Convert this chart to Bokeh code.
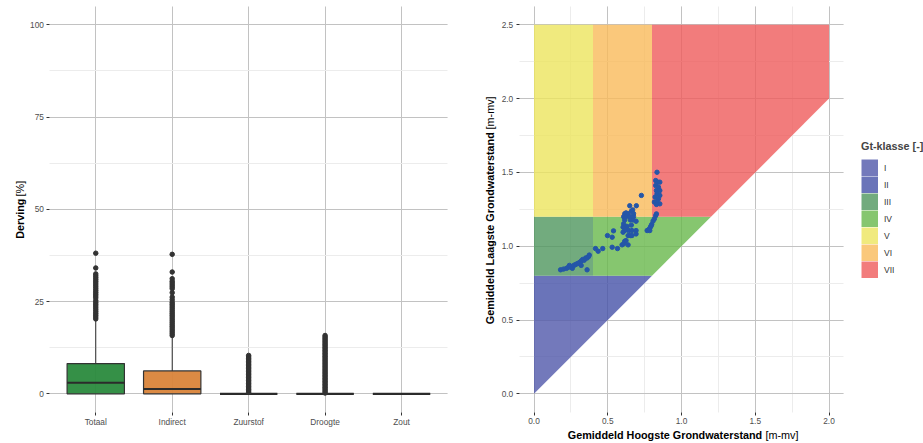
from math import pi
from bokeh.plotting import figure
from bokeh.layouts import row
from bokeh.models import (FixedTicker, SingleIntervalTicker, Label, Legend, LegendItem, Grid,
                          LinearAxis, PrintfTickFormatter, Range1d, ColumnDataSource)
from bokeh.embed import file_html
from bokeh.resources import INLINE

# ------------------------------------------------------------------ data
categories = ["Totaal", "Indirect", "Zuurstof", "Droogte", "Zout"]
box_q1 = [0.0, 0.0, 0.0, 0.0, 0.0]
box_median = [3.0, 1.3, 0.0, 0.0, 0.0]
box_q3 = [8.2, 6.2, 0.0, 0.0, 0.0]
whisker_low = [0.0, 0.0, 0.0, 0.0, 0.0]
whisker_high = [20.0, 15.4, 0.0, 0.0, 0.0]

outliers_totaal = [38.1, 34.1, 32.5, 32.0, 31.5, 31.0, 30.5, 30.0, 29.5, 29.0, 28.5, 28.0,
                   27.5, 27.0, 26.5, 26.0, 25.3, 24.8, 24.3, 23.8, 23.3, 22.8, 22.3, 21.8,
                   21.3, 20.8, 20.3]
outliers_indirect = [37.8, 33.0, 31.2, 30.5, 30.0, 29.5, 29.0, 28.5, 27.4, 26.2, 25.5, 24.8,
                     24.3, 23.8, 23.3, 22.8, 22.3, 21.8, 21.3, 20.8, 20.3, 19.8, 19.3, 18.8,
                     18.3, 17.8, 17.3, 16.8, 16.3, 15.8]
outliers_zuurstof = [10.4, 10.0, 9.6, 9.2, 8.8, 8.4, 8.0, 7.6, 7.2, 6.8, 6.4, 6.0, 5.6, 5.2,
                     4.8, 4.4, 4.0, 3.6, 3.2, 2.8, 2.4, 2.0, 1.6, 1.2, 0.8, 0.4]
outliers_droogte = [15.8, 15.4, 15.0, 14.6, 14.2, 13.8, 13.4, 13.0, 12.6, 12.2, 11.8, 11.4,
                    11.0, 10.6, 10.2, 9.8, 9.4, 9.0, 8.6, 8.2, 7.8, 7.4, 7.0, 6.6, 6.2, 5.8,
                    5.4, 5.0, 4.6, 4.2, 3.8, 3.4, 3.0, 2.6, 2.2, 1.8, 1.4, 1.0, 0.6, 0.2]
outliers_zout = []

gt_labels = ["I", "II", "III", "IV", "V", "VI", "VII"]
gt_xs = [[0.0, 0.5, 0.0],
         [0.0, 0.5, 0.8, 0.0],
         [0.0, 0.4, 0.4, 0.0],
         [0.4, 0.8, 1.2, 0.4],
         [0.0, 0.4, 0.4, 0.0],
         [0.4, 0.8, 0.8, 0.4],
         [0.8, 1.2, 2.0, 2.0, 0.8]]
gt_ys = [[0.0, 0.5, 0.5],
         [0.5, 0.5, 0.8, 0.8],
         [0.8, 0.8, 1.2, 1.2],
         [0.8, 0.8, 1.2, 1.2],
         [1.2, 1.2, 2.5, 2.5],
         [1.2, 1.2, 2.5, 2.5],
         [1.2, 1.2, 2.0, 2.5, 2.5]]

ghg = [0.18, 0.20, 0.22, 0.23, 0.24, 0.25, 0.26, 0.27, 0.28, 0.29, 0.30, 0.31, 0.32, 0.32,
       0.33, 0.34, 0.35, 0.36, 0.37, 0.375, 0.36,
       0.417, 0.435, 0.466, 0.498, 0.53, 0.539, 0.53, 0.566, 0.597, 0.615, 0.638,
       0.615, 0.624, 0.638, 0.649, 0.66, 0.669, 0.694, 0.728, 0.608, 0.615, 0.624, 0.608,
       0.604, 0.631, 0.653, 0.66, 0.642, 0.615, 0.604, 0.671, 0.664, 0.692, 0.692, 0.692,
       0.638, 0.653, 0.624, 0.608, 0.664, 0.675, 0.675, 0.649,
       0.834, 0.825, 0.839, 0.853, 0.825, 0.844, 0.83, 0.853, 0.834, 0.853, 0.821, 0.844,
       0.834, 0.816, 0.853, 0.83,
       0.767, 0.78, 0.789, 0.798, 0.807, 0.816, 0.825, 0.83, 0.794, 0.785]
glg = [0.84, 0.845, 0.85, 0.855, 0.87, 0.86, 0.85, 0.87, 0.875, 0.88, 0.885, 0.89, 0.90, 0.87,
       0.91, 0.905, 0.92, 0.92, 0.93, 0.94, 0.84,
       0.984, 0.966, 0.984, 1.072, 1.061, 1.104, 0.993, 0.984, 1.009, 1.034, 1.009,
       1.22, 1.226, 1.22, 1.274, 1.237, 1.246, 1.274, 1.344, 1.20, 1.178, 1.20, 1.152,
       1.129, 1.134, 1.178, 1.143, 1.106, 1.106, 1.095, 1.178, 1.106, 1.169, 1.106, 1.083,
       1.072, 1.072, 1.038, 1.016, 1.072, 1.20, 1.22, 1.20,
       1.501, 1.445, 1.434, 1.434, 1.411, 1.40, 1.377, 1.377, 1.355, 1.344, 1.333, 1.321,
       1.303, 1.299, 1.287, 1.283,
       1.106, 1.115, 1.129, 1.147, 1.17, 1.185, 1.207, 1.219, 1.138, 1.106]

# ------------------------------------------------------------------ styles / layout
FONT = "Liberation Sans"
TICK_COLOR = "#4d4d4d"
GRID_MAJOR = "#c2c2c2"
GRID_MINOR = "#ececec"
TICK_SIZE = "8.3px"
TITLE_SIZE = "10.8px"
KEY = 17
box_fill = ["#2a8a3d", "#d9843a", "#555555", "#555555", "#555555"]
gt_colors = ["#5057aa", "#4551a7", "#4f965e", "#68b84b", "#ece55e", "#f9ba5a", "#ef5b5b"]
GT_ALPHA = 0.8
HAS_CROSS = "cross_bounds" in Grid.properties()


def blend(hex_color, alpha):
    """Opaque colour of hex_color painted with alpha over white."""
    rgb = [int(hex_color[i:i + 2], 16) for i in (1, 3, 5)]
    return "#" + "".join("%02x" % round(alpha * c + (1 - alpha) * 255) for c in rgb)


def fit_range(v0, v1, p0, p1, total):
    """Range such that value v0 lands at pixel p0 and v1 at pixel p1."""
    s = (v1 - v0) / (p1 - p0)
    return Range1d(v0 - p0 * s, v0 + (total - p0) * s)


def make_fig(width, height, xr, yr):
    p = figure(width=width, height=height, x_range=xr, y_range=yr,
               x_axis_location=None, y_axis_location=None, min_border=0,
               output_backend="svg", toolbar_location=None)
    p.outline_line_color = None
    p.background_fill_color = "white"
    p.border_fill_color = "white"
    p.xgrid.visible = False
    p.ygrid.visible = False
    return p


def add_axis(p, side, loc, bounds, ticker, formatter=None, overrides=None):
    ax = LinearAxis(fixed_location=loc, bounds=bounds, ticker=ticker,
                    axis_line_color=None, major_tick_in=0, major_tick_out=3,
                    major_tick_line_color="#333333", minor_tick_line_color=None,
                    major_label_text_font=FONT, major_label_text_font_size=TICK_SIZE,
                    major_label_text_color=TICK_COLOR, major_label_standoff=2)
    if formatter is not None:
        ax.formatter = formatter
    if overrides is not None:
        ax.major_label_overrides = overrides
    p.add_layout(ax, side)


def add_grid(p, dim, ticker, bounds, cross):
    g = Grid(dimension=dim, ticker=ticker, bounds=bounds,
             grid_line_color=GRID_MAJOR, grid_line_width=1,
             minor_grid_line_color=GRID_MINOR, minor_grid_line_width=1)
    if HAS_CROSS:
        g.cross_bounds = cross
    p.add_layout(g)


def title_pair(p, x, y, bold, normal, angle, gap):
    common = dict(text_font=FONT, text_font_size=TITLE_SIZE, text_color="black",
                  text_baseline="middle", angle=angle)
    if angle:
        p.add_layout(Label(x=x, y=y, text=bold, text_align="right",
                           text_font_style="bold", **common))
        p.add_layout(Label(x=x, y=y + gap, text=normal, text_align="left", **common))
    else:
        p.add_layout(Label(x=x, y=y, text=bold, text_align="right",
                           text_font_style="bold", **common))
        p.add_layout(Label(x=x + gap, y=y, text=normal, text_align="left", **common))


H = 443

# ------------------------------------------------------------------ left: boxplots
W1 = 460
X1 = (0.4, 5.6)
Y1 = (-5.0, 105.0)
p1 = make_fig(W1, H, fit_range(X1[0], X1[1], 49.4, 446.9, W1),
              fit_range(Y1[0], Y1[1], 31.25, 437.15, H))
xpos = list(range(1, len(categories) + 1))
xt = FixedTicker(ticks=xpos)
yt = SingleIntervalTicker(interval=25, num_minor_ticks=2)
add_grid(p1, 0, xt, X1, Y1)
add_grid(p1, 1, yt, Y1, X1)
add_axis(p1, "below", Y1[0], X1, xt, overrides={x: c for x, c in zip(xpos, categories)})
add_axis(p1, "left", X1[0], Y1, yt)

src = ColumnDataSource(dict(x=xpos, q1=box_q1, med=box_median, q3=box_q3,
                            lo=whisker_low, hi=whisker_high, fill=box_fill))
p1.segment(x0="x", y0="q3", x1="x", y1="hi", source=src, line_color="#333333", line_width=1)
p1.segment(x0="x", y0="q1", x1="x", y1="lo", source=src, line_color="#333333", line_width=1)
p1.vbar(x="x", width=0.75, bottom="q1", top="q3", source=src, fill_color="fill",
        fill_alpha=0.95, line_color="#333333", line_width=1.2)
p1.vbar(x="x", width=0.75, bottom="med", top="med", source=src, fill_alpha=0,
        line_color="#2b2b2b", line_width=2.2)

out_x, out_y = [], []
for xi, vals in zip(xpos, [outliers_totaal, outliers_indirect, outliers_zuurstof,
                           outliers_droogte, outliers_zout]):
    out_x += [xi] * len(vals)
    out_y += vals
p1.scatter(out_x, out_y, size=4.5, color="#333333")

title_pair(p1, 0.012, 52.9, "Derving", "[%]", pi / 2, 0.6)

# ------------------------------------------------------------------ right: Gt-klasse
W2 = 463
X2 = (-0.1, 2.1)
Y2 = (-0.125, 2.625)
p2 = make_fig(W2, H, fit_range(X2[0], X2[1], 58.75, 383.25, W2),
              fit_range(Y2[0], Y2[1], 31.25, 437.15, H))
t2x = SingleIntervalTicker(interval=0.5, num_minor_ticks=2)
t2y = SingleIntervalTicker(interval=0.5, num_minor_ticks=2)
add_grid(p2, 0, t2x, X2, Y2)
add_grid(p2, 1, t2y, Y2, X2)
add_axis(p2, "below", Y2[0], X2, t2x, formatter=PrintfTickFormatter(format="%.1f"))
add_axis(p2, "left", X2[0], Y2, t2y, formatter=PrintfTickFormatter(format="%.1f"))

items = []
for lab, xs, ys, col in zip(gt_labels, gt_xs, gt_ys, gt_colors):
    p2.patch(xs, ys, fill_color=col, fill_alpha=GT_ALPHA, line_color=None)
    # legend key: hidden outline of the same class drawn as a full 17px block in the key
    key = p2.line(xs, ys, line_color=blend(col, GT_ALPHA), line_width=KEY,
                  line_cap="butt", visible=False)
    items.append(LegendItem(label=lab, renderers=[key]))

p2.scatter(ghg, glg, size=4.4, color="#2456a8")

legend = Legend(items=items, location=(401, 165), title="Gt-klasse [-]",
                title_text_font=FONT, title_text_font_style="bold", title_text_font_size="10.8px",
                title_standoff=7, label_text_font=FONT, label_text_font_size="8.5px",
                label_text_color="#333333", glyph_width=KEY, glyph_height=KEY, label_height=KEY,
                spacing=0, padding=0, margin=0, label_standoff=6,
                inactive_fill_alpha=0.0,
                border_line_color=None, background_fill_alpha=0)
p2.add_layout(legend)

title_pair(p2, 1.547, -0.2825, "Gemiddeld Hoogste Grondwaterstand", "[m-mv]", 0, 0.022)
title_pair(p2, -0.298, 1.772, "Gemiddeld Laagste Grondwaterstand", "[m-mv]", pi / 2, 0.019)

layout = row(p1, p2)
open("out.html", "w").write(file_html(layout, INLINE))
